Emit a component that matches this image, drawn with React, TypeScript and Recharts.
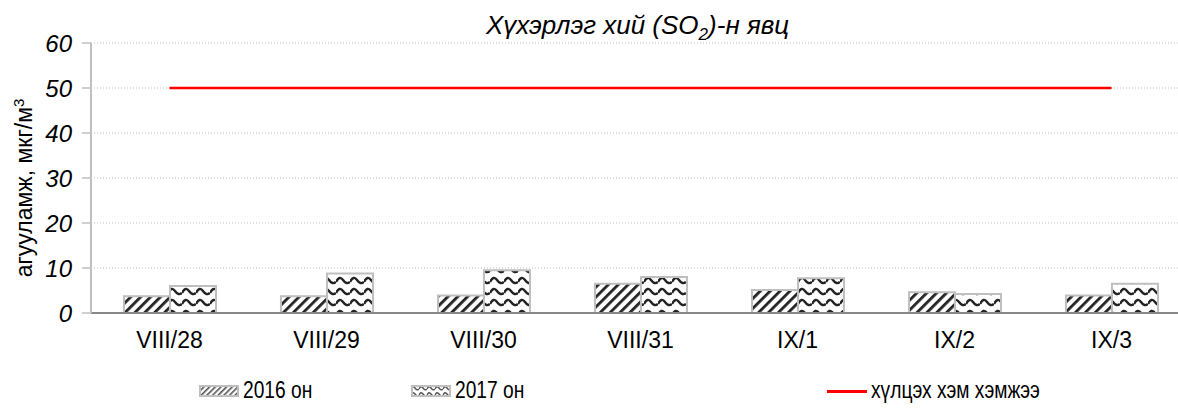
import React from 'react';
import {
  ComposedChart, Bar, Line, XAxis, YAxis, CartesianGrid,
} from 'recharts';

const days = ['VIII/28', 'VIII/29', 'VIII/30', 'VIII/31', 'IX/1', 'IX/2', 'IX/3'];
const so2_2016 = [3.7, 3.7, 3.9, 6.5, 5.1, 4.6, 3.9];
const so2_2017 = [6.0, 8.8, 9.5, 8.0, 7.7, 4.2, 6.5];
const limitValue = [50, 50, 50, 50, 50, 50, 50];
const yTicks = [0, 10, 20, 30, 40, 50, 60];

const data = days.map((d, i) => ({
  name: d,
  y2016: so2_2016[i],
  y2017: so2_2017[i],
  limit: limitValue[i],
}));

const FONT = '"Liberation Sans", Arial, sans-serif';

// patterns live in their own hidden svg, referenced by url(#...) from the chart
function PatternDefs() {
  return (
    <svg width="0" height="0" style={{ position: 'absolute' }}>
      <defs>
        <pattern id="stripes" width="7" height="7" patternUnits="userSpaceOnUse" patternTransform="rotate(45)">
          <rect width="7" height="7" fill="#fff" />
          <rect x="0" y="0" width="2.8" height="7" fill="#222" />
        </pattern>
        <pattern id="waves" width="14" height="11" patternUnits="userSpaceOnUse">
          <rect width="14" height="11" fill="#fff" />
          <path d="M0 7 Q3.5 0 7 5 T14 7" fill="none" stroke="#222" strokeWidth="2.4" />
        </pattern>
        <pattern id="stripesSm" width="4" height="4" patternUnits="userSpaceOnUse" patternTransform="rotate(45)">
          <rect width="4" height="4" fill="#fff" />
          <rect x="0" y="0" width="1.6" height="4" fill="#555" />
        </pattern>
        <pattern id="wavesSm" width="8" height="6" patternUnits="userSpaceOnUse">
          <rect width="8" height="6" fill="#fff" />
          <path d="M0 4 Q2 0 4 3 T8 4" fill="none" stroke="#555" strokeWidth="1.4" />
        </pattern>
      </defs>
    </svg>
  );
}

function Swatch({ fill }: { fill: string }) {
  return (
    <svg width="40" height="12" style={{ display: 'block' }}>
      <rect x="1" y="1" width="38" height="10" fill={fill} stroke="#bfbfbf" strokeWidth="2" />
    </svg>
  );
}

const legendText: React.CSSProperties = {
  position: 'absolute', top: 0, transform: 'scaleX(0.8)', transformOrigin: 'left center', whiteSpace: 'nowrap',
};

export default function App() {
  return (
    <div style={{ position: 'fixed', left: 0, top: 0, width: 1178, height: 409, overflow: 'hidden', background: '#fff', fontFamily: FONT }}>
      <PatternDefs />
      <div style={{ position: 'absolute', left: 486, top: 10, whiteSpace: 'nowrap', fontSize: 26, fontStyle: 'italic', color: '#000' }}>
        Хүхэрлэг хий (SO<sub style={{ fontSize: 17 }}>2</sub>)-н явц
      </div>
      <div style={{
        position: 'absolute', left: 24, top: 188, transform: 'translate(-50%, -50%) rotate(-90deg)',
        whiteSpace: 'nowrap', fontSize: 23, color: '#000',
      }}>
        агууламж, мкг/м<sup style={{ fontSize: 15 }}>3</sup>
      </div>
      <ComposedChart
        width={1195}
        height={409}
        data={data}
        margin={{ top: 43, right: 5, bottom: 66, left: 0 }}
        barCategoryGap="21%"
        barGap={0}
      >
        <CartesianGrid vertical={false} stroke="#bdbdbd" strokeDasharray="1 2" />
        <XAxis
          dataKey="name"
          height={30}
          tickLine={false}
          tickSize={0}
          tickMargin={19}
          axisLine={{ stroke: '#888', strokeWidth: 2 }}
          tick={{ fill: '#000', fontSize: 23, fontFamily: FONT }}
        />
        <YAxis
          width={91}
          domain={[0, 60]}
          ticks={yTicks}
          interval={0}
          tickSize={9}
          tickMargin={10}
          axisLine={{ stroke: '#bfbfbf', strokeWidth: 2 }}
          tickLine={{ stroke: '#bfbfbf', strokeWidth: 1.5 }}
          tick={{ fill: '#000', fontSize: 24, fontStyle: 'italic', fontFamily: FONT }}
        />
        <Bar dataKey="y2016" fill="url(#stripes)" stroke="#bfbfbf" strokeWidth={2} isAnimationActive={false} />
        <Bar dataKey="y2017" fill="url(#waves)" stroke="#bfbfbf" strokeWidth={2} isAnimationActive={false} />
        <Line dataKey="limit" stroke="#ff0000" strokeWidth={2.5} dot={false} isAnimationActive={false} />
      </ComposedChart>
      <div style={{ position: 'absolute', top: 376, left: 0, width: 1178, height: 30, fontSize: 24, color: '#000' }}>
        <div style={{ position: 'absolute', left: 199, top: 9 }}><Swatch fill="url(#stripesSm)" /></div>
        <div style={{ ...legendText, left: 243 }}>2016 он</div>
        <div style={{ position: 'absolute', left: 411, top: 9 }}><Swatch fill="url(#wavesSm)" /></div>
        <div style={{ ...legendText, left: 455 }}>2017 он</div>
        <div style={{ position: 'absolute', left: 827, top: 14, width: 40, height: 3, background: '#ff0000' }} />
        <div style={{ ...legendText, left: 871 }}>хүлцэх хэм хэмжээ</div>
      </div>
    </div>
  );
}
